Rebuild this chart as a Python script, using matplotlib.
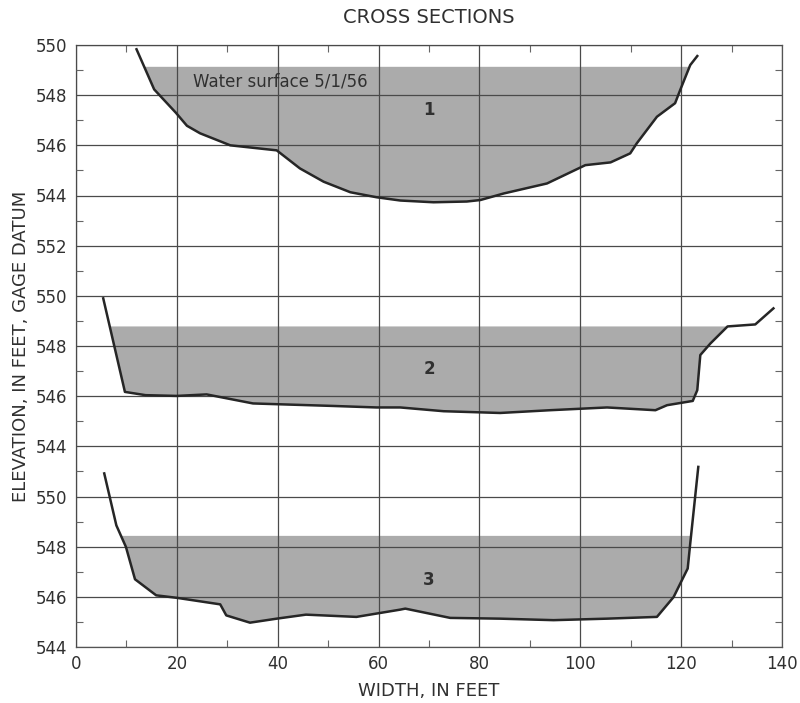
import numpy as np
import matplotlib.pyplot as plt

# section profiles: width (ft) and bed elevation (ft, gage datum)
sec1_x = [12.0, 15.5, 19.8, 22.0, 24.6, 30.6, 39.8, 44.4, 49.1, 54.4, 59.6, 64.3,
          70.9, 77.5, 80.2, 84.8, 93.4, 101.0, 106.0, 109.9, 111.2, 115.2, 118.8,
          119.8, 121.8, 123.2]
sec1_z = [549.83, 548.23, 547.3, 546.78, 546.48, 546.0, 545.8, 545.08, 544.55,
          544.13, 543.93, 543.8, 543.73, 543.76, 543.82, 544.08, 544.48, 545.21,
          545.32, 545.68, 546.08, 547.14, 547.68, 548.2, 549.2, 549.56]
sec1_ws = 549.15

sec2_x = [5.4, 9.7, 13.8, 20.0, 25.9, 35.1, 39.8, 51.0, 59.6, 64.3, 72.9, 84.1,
          94.0, 105.3, 114.9, 117.2, 122.3, 123.2, 123.8, 125.8, 129.2, 134.7, 138.3]
sec2_z = [549.9, 546.17, 546.04, 546.01, 546.07, 545.71, 545.68, 545.61, 545.55,
          545.55, 545.4, 545.33, 545.44, 545.55, 545.44, 545.64, 545.81, 546.24,
          547.64, 548.1, 548.78, 548.86, 549.5]
sec2_ws = 548.8

sec3_x = [5.6, 8.0, 9.9, 11.7, 15.9, 20.0, 28.6, 29.8, 34.5, 39.8, 45.6, 55.6,
          64.3, 65.3, 74.2, 84.1, 94.7, 105.3, 115.2, 118.5, 121.3, 121.8, 123.4]
sec3_z = [550.92, 548.85, 547.99, 546.7, 546.06, 545.96, 545.7, 545.26, 544.97,
          545.13, 545.29, 545.2, 545.49, 545.53, 545.16, 545.13, 545.07, 545.13,
          545.2, 545.99, 547.13, 548.12, 551.18]
sec3_ws = 548.45

# each section is stacked on one axis; offset = position of 544 ft
sections = [
    (sec1_x, sec1_z, sec1_ws, 18, "1", 3.4),
    (sec2_x, sec2_z, sec2_ws, 8, "2", 3.1),
    (sec3_x, sec3_z, sec3_ws, 0, "3", 2.66),
]
tick_pos = list(range(0, 25, 2))
tick_labels = ["544", "546", "548", "550",
               "544", "546", "548", "550", "552",
               "544", "546", "548", "550"]

line_col = "#262626"
fill_col = "#ababab"
grid_col = "#4a4a4a"
text_col = "#303030"

fig = plt.figure(figsize=(8, 7.03), dpi=100)
ax = fig.add_axes([76 / 800, 1 - 647 / 703, 706 / 800, 602 / 703])

for xs, zs, ws, off, name, lab_y in sections:
    xs = np.array(xs)
    ys = np.array(zs) - 544 + off
    wl = ws - 544 + off
    # fine resampling so the fill follows the bank exactly
    xf = np.linspace(xs[0], xs[-1], 2000)
    yf = np.interp(xf, xs, ys)
    ax.fill_between(xf, yf, wl, where=yf < wl, color=fill_col, lw=0, zorder=1)
    ax.plot(xs, ys, color=line_col, lw=1.8, zorder=3, solid_joinstyle="round")
    ax.text(70, off + lab_y, name, ha="center", va="center", fontsize=12,
            fontweight="bold", color=text_col, zorder=4)

ax.text(23.2, 22.56, "Water surface 5/1/56", ha="left", va="center",
        fontsize=12, color=text_col, zorder=4)

ax.set_xlim(0, 140)
ax.set_ylim(0, 24)
ax.set_xticks(np.arange(0, 141, 20))
ax.set_yticks(tick_pos)
ax.set_yticklabels(tick_labels)
ax.set_xticks(np.arange(10, 140, 20), minor=True)
ax.set_yticks(np.arange(1, 24, 2), minor=True)
ax.grid(True, which="major", color=grid_col, lw=0.9, zorder=2)
ax.set_axisbelow(False)
ax.tick_params(which="major", length=0, labelsize=12, labelcolor=text_col, pad=6)
ax.tick_params(which="minor", direction="in", length=5, width=0.8, color="#666666",
               top=True, right=True)
for s in ax.spines.values():
    s.set_color("#555555")
    s.set_linewidth(0.9)

ax.set_title("CROSS SECTIONS", fontsize=14, color=text_col, pad=16)
ax.set_xlabel("WIDTH, IN FEET", fontsize=13, color=text_col, labelpad=6)
ax.set_ylabel("ELEVATION, IN FEET, GAGE DATUM", fontsize=13, color=text_col, labelpad=4)

fig.savefig("out.png", dpi=100)
